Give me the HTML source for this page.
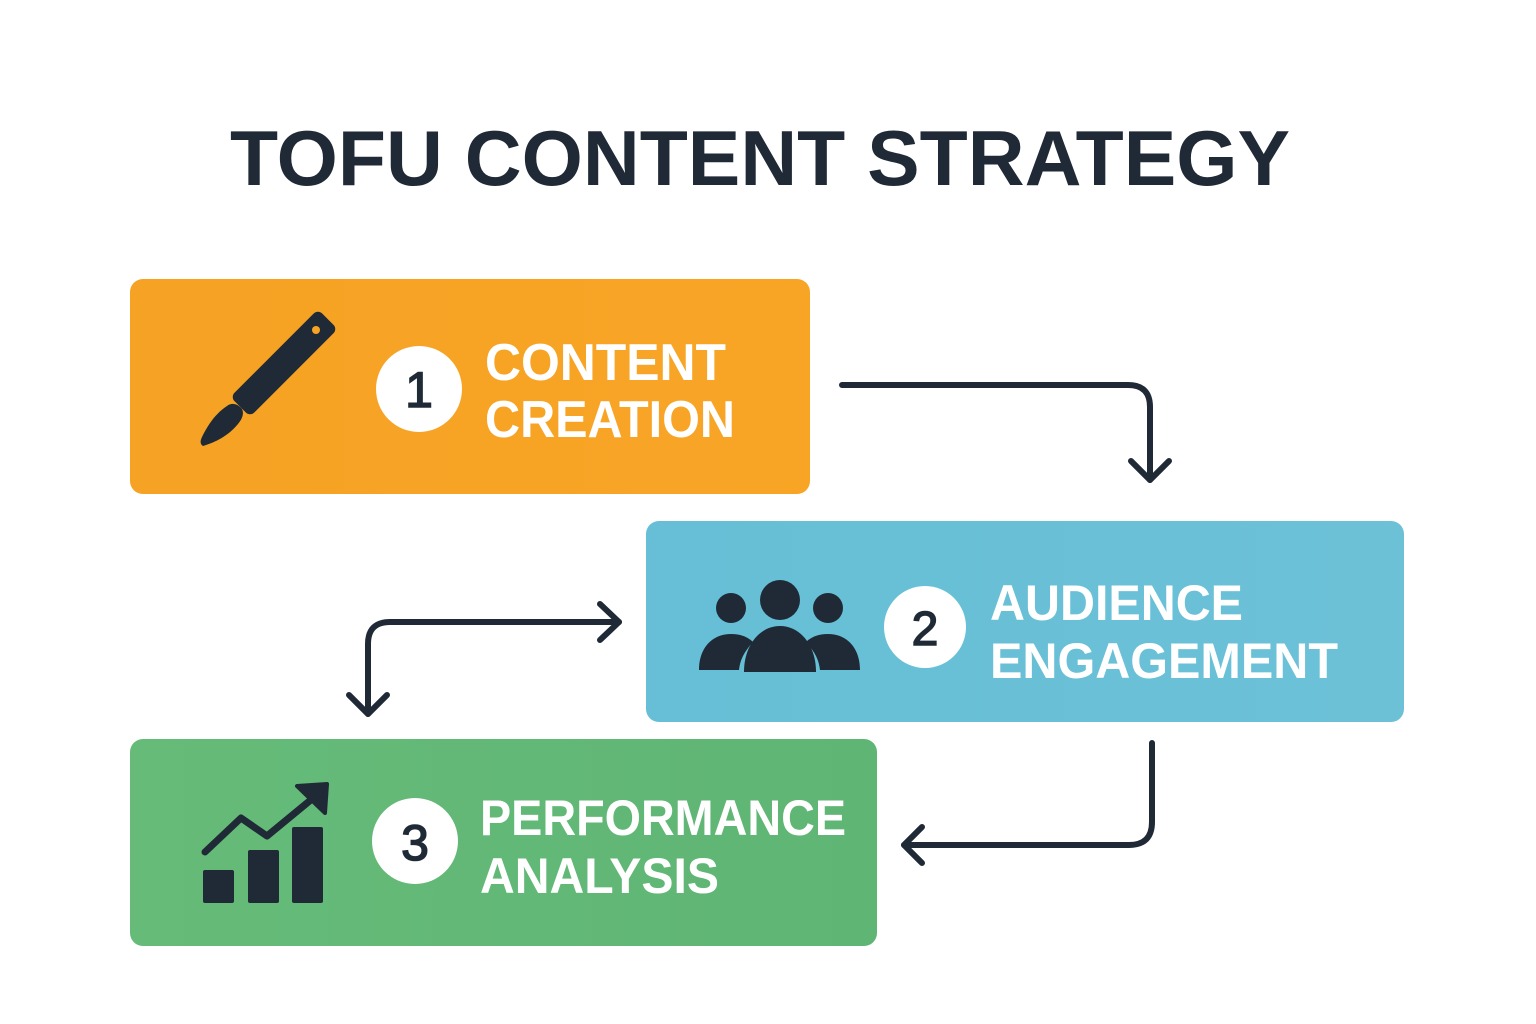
<!DOCTYPE html>
<html><head><meta charset="utf-8"><style>
html,body{margin:0;padding:0;background:#fff;width:1536px;height:1024px;overflow:hidden}
svg text{font-family:"Liberation Sans","DejaVu Sans",sans-serif;font-weight:bold}
</style></head><body>
<svg width="1536" height="1024" viewBox="0 0 1536 1024" xmlns="http://www.w3.org/2000/svg">
<defs>
<linearGradient id="g1" x1="0" x2="1"><stop offset="0" stop-color="#f6a224"/><stop offset="1" stop-color="#f8a526"/></linearGradient>
<linearGradient id="g2" x1="0" x2="1"><stop offset="0" stop-color="#66bfd6"/><stop offset="1" stop-color="#6cc1d7"/></linearGradient>
<linearGradient id="g3" x1="0" x2="1"><stop offset="0" stop-color="#66bb79"/><stop offset="1" stop-color="#5fb574"/></linearGradient>
</defs>
<text x="230" y="185" font-size="78" fill="#1f2a36" textLength="1060" lengthAdjust="spacingAndGlyphs">TOFU CONTENT STRATEGY</text>

<rect x="130" y="279" width="680" height="215" rx="13" fill="url(#g1)"/>
<rect x="646" y="521" width="758" height="201" rx="13" fill="url(#g2)"/>
<rect x="130" y="739" width="747" height="207" rx="13" fill="url(#g3)"/>

<!-- pen -->
<g fill="#1f2a36">
<rect x="-14" y="-62" width="28" height="124" rx="6" transform="translate(284,363) rotate(45)"/>
<circle cx="316" cy="330" r="4" fill="#f7a324"/>
<path d="M227,406 C232,402 238,404 242,409 C244,413 243,418 238,424 C228,436 216,442 203,446 C200,444 200,441 202,437 C208,425 215,414 227,406Z"/>
</g>
<circle cx="419" cy="389" r="43" fill="#fff"/>
<text x="419" y="407" text-anchor="middle" font-size="50" fill="#1f2a36" style="font-weight:normal;stroke:#1f2a36;stroke-width:1.5">1</text>
<text x="485" y="380" font-size="52" fill="#fff" textLength="241" lengthAdjust="spacingAndGlyphs">CONTENT</text>
<text x="485" y="437" font-size="52" fill="#fff" textLength="250" lengthAdjust="spacingAndGlyphs">CREATION</text>

<!-- people -->
<g fill="#1f2a36">
<circle cx="780" cy="600" r="20"/>
<path d="M744,672 C744,645 760,626 780,626 C800,626 816,645 816,672Z"/>
<circle cx="731" cy="608" r="15"/>
<path d="M699,670 C699,648 712,634 731,634 C742,634 749,638 753,642 C744,652 740,660 739,670Z"/>
<circle cx="828" cy="608" r="15"/>
<path d="M860,670 C860,648 847,634 828,634 C817,634 810,638 806,642 C815,652 819,660 820,670Z"/>
</g>
<circle cx="925" cy="627" r="41" fill="#fff"/>
<text x="925" y="645" text-anchor="middle" font-size="48" fill="#1f2a36" style="font-weight:normal;stroke:#1f2a36;stroke-width:1.5">2</text>
<text x="990" y="620" font-size="50" fill="#fff" textLength="253" lengthAdjust="spacingAndGlyphs">AUDIENCE</text>
<text x="990" y="678" font-size="50" fill="#fff" textLength="348" lengthAdjust="spacingAndGlyphs">ENGAGEMENT</text>

<!-- chart -->
<g fill="#1f2a36">
<rect x="203" y="870" width="31" height="33" rx="2"/>
<rect x="248" y="850" width="31" height="53" rx="2"/>
<rect x="292" y="827" width="31" height="76" rx="2"/>
<polyline points="205,852 241,818 267,836 318,794" fill="none" stroke="#1f2a36" stroke-width="7" stroke-linejoin="round" stroke-linecap="round"/>
<path d="M297,786 L327,784 L325,813Z" stroke="#1f2a36" stroke-width="4" stroke-linejoin="round"/>
</g>
<circle cx="415" cy="841" r="43" fill="#fff"/>
<text x="415" y="860" text-anchor="middle" font-size="50" fill="#1f2a36" style="font-weight:normal;stroke:#1f2a36;stroke-width:1.5">3</text>
<text x="480" y="835" font-size="50" fill="#fff" textLength="366" lengthAdjust="spacingAndGlyphs">PERFORMANCE</text>
<text x="480" y="893" font-size="50" fill="#fff" textLength="239" lengthAdjust="spacingAndGlyphs">ANALYSIS</text>

<!-- arrows -->
<g fill="none" stroke="#1f2a36" stroke-width="6" stroke-linecap="round" stroke-linejoin="round">
<path d="M842,385 H1128 Q1150,385 1150,407 V480"/>
<path d="M1131,461 L1150,480 L1169,461"/>
<path d="M619,622 H390 Q368,622 368,644 V714"/>
<path d="M600,604 L619,622 L600,640"/>
<path d="M349,695 L368,714 L387,695"/>
<path d="M1152,743 V822 Q1152,845 1129,845 H904"/>
<path d="M922,827 L904,845 L922,863"/>
</g>
</svg>
</body></html>
